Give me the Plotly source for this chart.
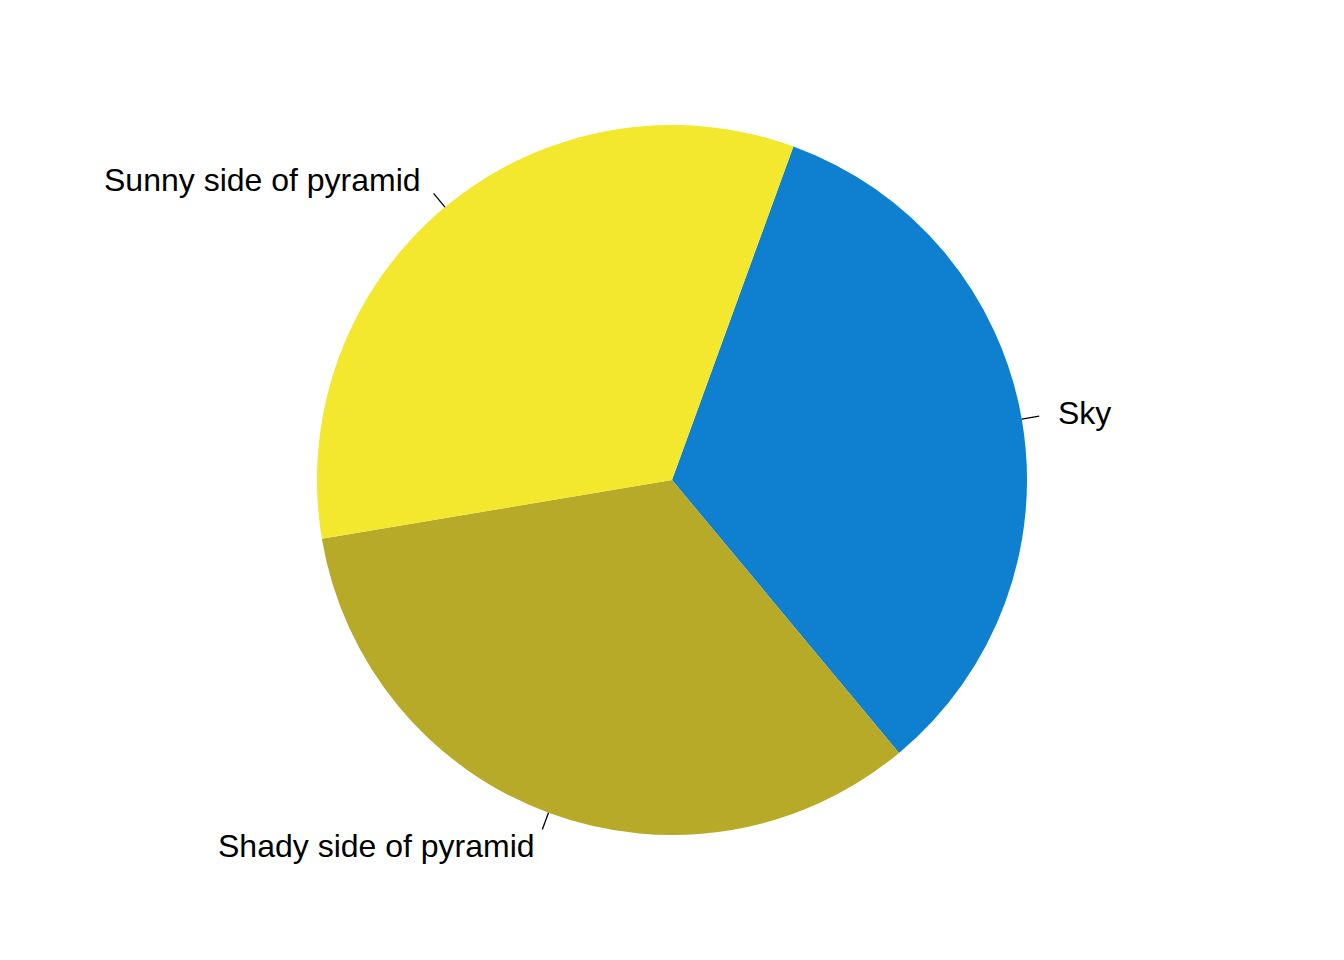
import math
import plotly.graph_objects as go

labels = ["Sky", "Shady side of pyramid", "Sunny side of pyramid"]
values = [33.4, 33.4, 33.2]
colors = ["#0F7FD0", "#B7AA28", "#F3E82E"]
start_angle = 20  # degrees clockwise from 12 o'clock

W, H = 1344, 960
M_T, M_B, M_L, M_R = 117, 133, 0, 16
plot_w = W - M_L - M_R
plot_h = H - M_T - M_B
R_px = min(plot_w, plot_h) / 2.0

fig = go.Figure(go.Pie(
    labels=labels, values=values, sort=False, direction="clockwise",
    rotation=start_angle, marker=dict(colors=colors, line=dict(width=0)),
    textinfo="none", hoverinfo="label+percent", showlegend=False,
    domain=dict(x=[0, 1], y=[0, 1]),
))

def to_paper(r_frac, ang_deg):
    a = math.radians(ang_deg)
    dx = R_px * r_frac * math.sin(a)
    dy = R_px * r_frac * math.cos(a)
    return 0.5 + dx / plot_w, 0.5 + dy / plot_h, dx

total = sum(values)
cum = 0.0
shapes, annotations = [], []
for lab, v in zip(labels, values):
    mid = start_angle + 360.0 * (cum + v / 2.0) / total
    cum += v
    x0, y0, _ = to_paper(1.0, mid)
    x1, y1, _ = to_paper(1.05, mid)
    xt, yt, dx = to_paper(1.1, mid)
    shapes.append(dict(type="line", xref="paper", yref="paper",
                       x0=x0, y0=y0, x1=x1, y1=y1,
                       line=dict(color="black", width=1.3)))
    annotations.append(dict(text=lab, xref="paper", yref="paper", x=xt, y=yt,
                            xanchor="left" if dx > 0 else "right", yanchor="middle",
                            showarrow=False, borderpad=0,
                            font=dict(family="Liberation Sans, Arial", size=32, color="black")))

fig.update_layout(
    width=W, height=H, paper_bgcolor="white", plot_bgcolor="white",
    margin=dict(t=M_T, b=M_B, l=M_L, r=M_R),
    shapes=shapes, annotations=annotations,
)
fig.write_html("out.html")
